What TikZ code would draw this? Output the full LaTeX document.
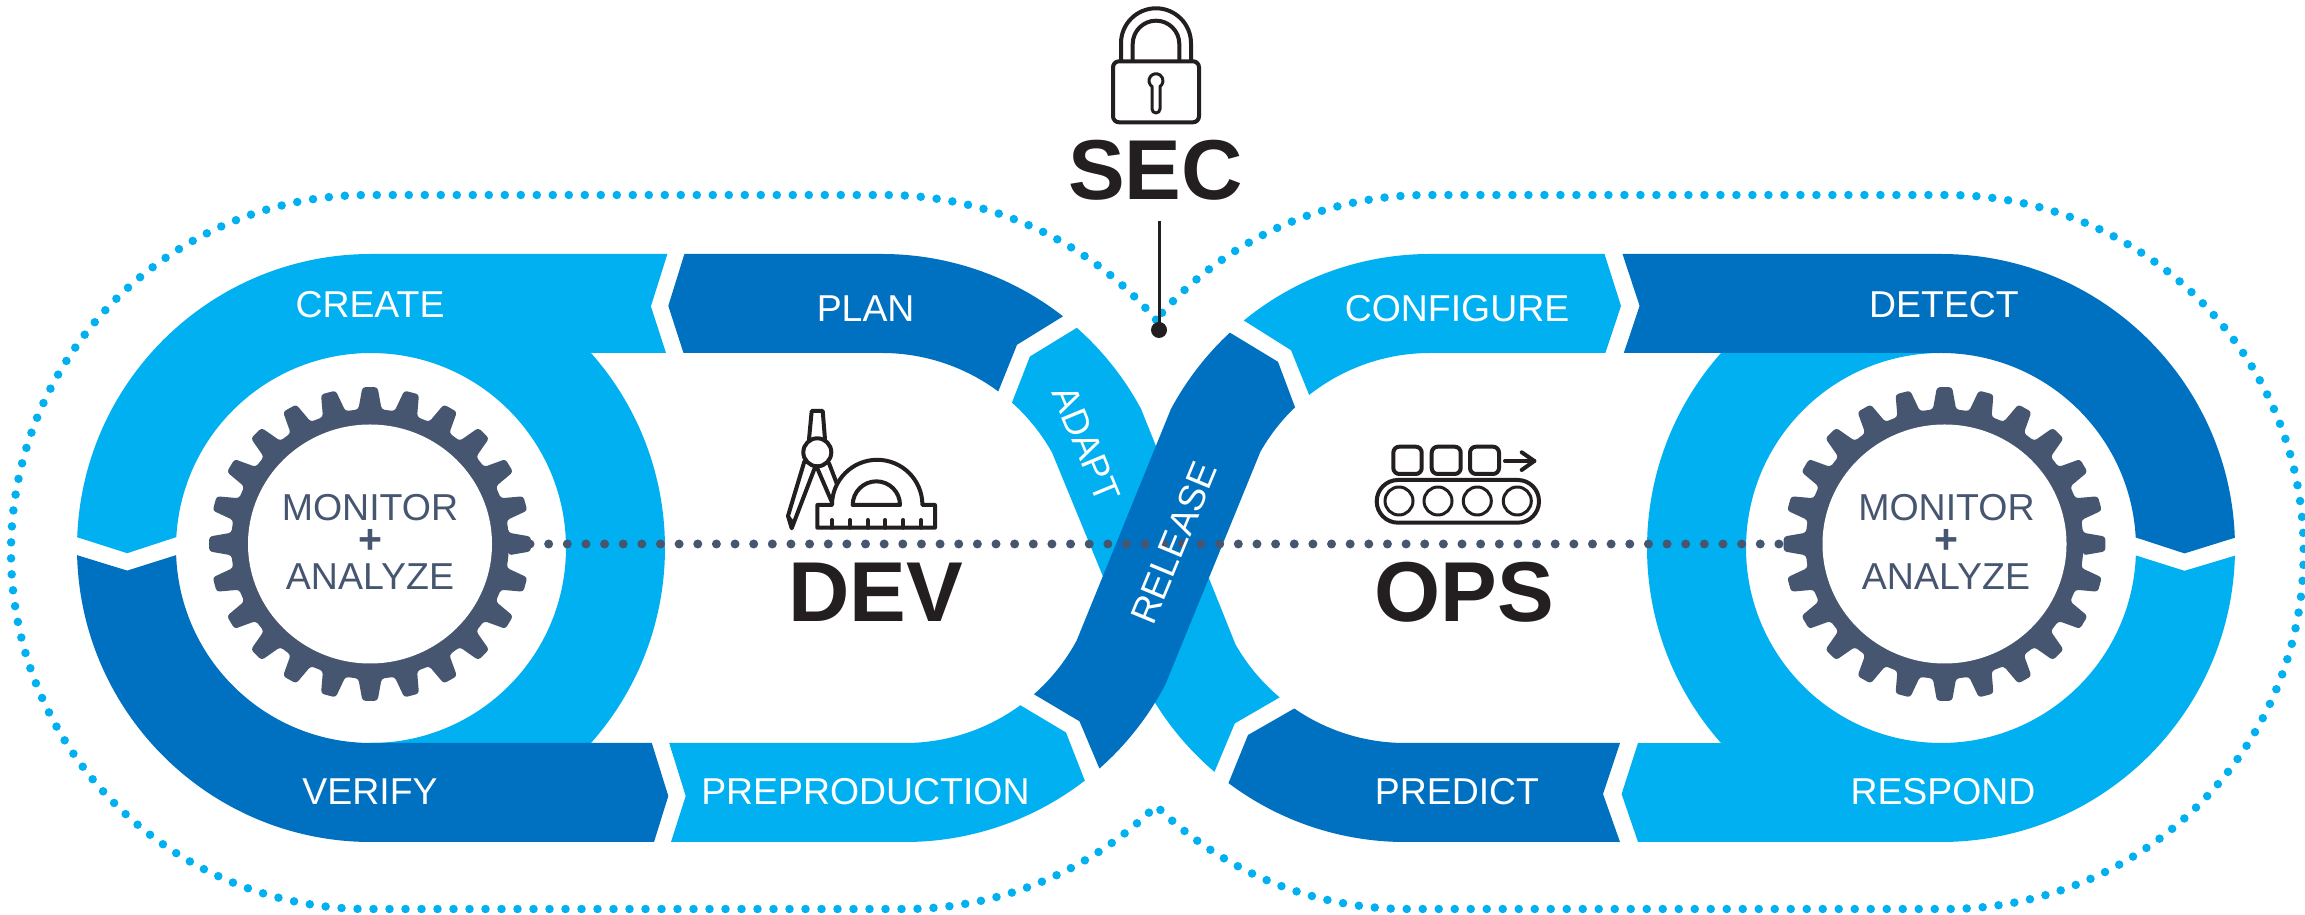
\documentclass[tikz,border=0pt]{standalone}
\usepackage{fontspec}
\setmainfont{Liberation Sans}
\definecolor{lightb}{HTML}{00B0F0}
\definecolor{darkb}{HTML}{0070C0}
\definecolor{slate}{HTML}{465670}
\definecolor{ink}{HTML}{231F20}
\tikzset{
  lightband/.style={fill=lightb,draw=none},
  darkband/.style={fill=darkb,draw=none},
  label/.style={text=white,inner sep=0pt,font=\fontsize{37.4}{37.4}\selectfont},
  gearlabel/.style={text=slate,inner sep=0pt,font=\fontsize{37.5}{37.5}\selectfont},
  gearplus/.style={text=slate,inner sep=0pt,font=\fontsize{41}{41}\selectfont\bfseries},
  bigtitle/.style={text=ink,inner sep=0pt,font=\fontsize{85}{85}\selectfont\bfseries},
  icon/.style={draw=ink,line width=4pt,line join=round,line cap=round},
  thinicon/.style={draw=ink,line width=3pt,line join=round,line cap=round},
  outerdots/.style={draw=lightb,line width=8.5pt,line cap=round,dash pattern=on 0pt off 16pt},
  innerdots/.style={draw=slate,line width=9pt,line cap=round,dash pattern=on 0pt off 18.64pt},
  gearbody/.style={fill=slate,rounded corners=3pt}
}
\newcommand{\mygear}[2]{%
  \fill[gearbody,shift={(#1,#2)}] (-4.8:139 and 135)
    \foreach \a in {0,15,...,345}{
      -- ({\a-4.8}:139 and 135) -- ({\a-2.7}:161 and 157)
      -- ({\a+2.7}:161 and 157) -- ({\a+4.8}:139 and 135)
    } -- cycle;
  \fill[white,shift={(#1,#2)}] (0,0) ellipse [x radius=122,y radius=119.5];
}
\begin{document}
\begin{tikzpicture}[x=1pt,y=1pt]
\useasboundingbox (0,0) rectangle (2305,915);
\fill[white] (0,0) rectangle (2305,915);

% outer dotted contour
\draw[outerdots] ([shift={(885,363)}]40.6:357) arc[start angle=40.6,end angle=90,radius=357pt]
  -- (368,720) arc[start angle=90,end angle=270,radius=357pt]
  -- (905,6) arc[start angle=-90,end angle=-45.3,radius=357pt]
  arc[start angle=225.3,end angle=270,radius=357pt]
  -- (1946.7,6) arc[start angle=-90,end angle=90,radius=357pt]
  -- (1427,720) arc[start angle=90,end angle=139.4,radius=357pt];

% left ring
\path[lightband] (667.4,661) -- (371,661) arc[start angle=90,end angle=177.9,radius=294pt]
  -- (127.2,361.8) -- ([shift={(371,367)}]176.8:195)
  arc[start angle=176.8,end angle=-90,radius=195pt]
  -- ([shift={(371,367)}]-41.6:294) arc[start angle=-41.6,end angle=41.6,radius=294pt]
  -- (666,562) -- (650.9,608.7) -- cycle;
\path[darkband] ([shift={(371,367)}]181.4:294) arc[start angle=181.4,end angle=270,radius=294pt]
  -- (654,73) -- (668.3,119) -- (651.8,172) -- (371,172)
  arc[start angle=270,end angle=182.1,radius=195pt] -- (127.2,344.4) -- cycle;
\path[darkband] (684.4,661) -- (882,661) arc[start angle=90,end angle=52,radius=294pt]
  -- (1017,570.2) -- ([shift={(882,367)}]53.4:195) arc[start angle=53.4,end angle=90,radius=195pt]
  -- (683.5,562) -- (668.3,609.1) -- cycle;
\path[lightband] (671,73) -- (905,73) arc[start angle=-90,end angle=-52.3,radius=294pt]
  -- (1066,182.5) -- ([shift={(905,367)}]-53.75:195) arc[start angle=-53.75,end angle=-90,radius=195pt]
  -- (669.2,172) -- (685.7,119) -- cycle;

% right ring
\path[lightband] (1638,172) -- (1621.6,121) -- (1638,73) -- (1941,73)
  arc[start angle=-90,end angle=-1.5,radius=294pt] -- (2184.5,344.2)
  -- ([shift={(1941,367)}]-2.2:195) arc[start angle=-2.2,end angle=-270,radius=195pt]
  -- ([shift={(1941,367)}]138.4:294) arc[start angle=138.4,end angle=221.6,radius=294pt] -- cycle;
\path[darkband] (1622.5,661) -- (1941,661) arc[start angle=90,end angle=2,radius=294pt]
  -- (2184.5,361.6) -- ([shift={(1941,367)}]3.1:195) arc[start angle=3.1,end angle=90,radius=195pt]
  -- (1623.8,562) -- (1639.6,609.1) -- cycle;
\path[lightband] ([shift={(1430,367)}]129.3:294) arc[start angle=129.3,end angle=90,radius=294pt]
  -- (1604.5,661) -- (1621,609.1) -- (1605.4,562) -- (1430,562)
  arc[start angle=90,end angle=128.3,radius=195pt] -- (1291,564.8) -- cycle;
\path[darkband] ([shift={(1405,367)}]233.1:294) arc[start angle=233.1,end angle=270,radius=294pt]
  -- (1620,73) -- (1603,121) -- (1620,172) -- (1405,172)
  arc[start angle=270,end angle=235.4,radius=195pt] -- (1248,180) -- cycle;

% crossing
\path[lightband] ([shift={(882,367)}]48.5:294) arc[start angle=48.5,end angle=28.2,radius=294pt]
  -- ([shift={(1405,367)}]209.6:195) arc[start angle=209.6,end angle=230,radius=195pt]
  -- (1234.8,191.6) -- ([shift={(1405,367)}]229.6:294) arc[start angle=229.6,end angle=211.6,radius=294pt]
  -- ([shift={(882,367)}]29.3:195) arc[start angle=29.3,end angle=48.2,radius=195pt]
  -- (1029.9,558.5) -- cycle;
\path[darkband] ([shift={(1430,367)}]132.9:294) arc[start angle=132.9,end angle=151.8,radius=294pt]
  -- ([shift={(905,367)}]-28.3:195) arc[start angle=-28.3,end angle=-48.6,radius=195pt]
  -- (1079.5,193.7) -- ([shift={(905,367)}]-48.6:294) arc[start angle=-48.6,end angle=-27.6,radius=294pt]
  -- ([shift={(1430,367)}]150.5:195) arc[start angle=150.5,end angle=133.8,radius=195pt]
  -- (1278,553.2) -- cycle;

% slate dotted line
\coordinate (dotL) at (530,371);
\coordinate (dotR) at (1779,371);
\draw[innerdots] (dotL) -- (dotR);

% gears
\mygear{370}{371}
\mygear{1944.5}{371}

% band labels
\node[label] (create) at (370,610) {CREATE};
\node[label] (verify) at (370,123.5) {VERIFY};
\node[label] (plan) at (865.6,606) {PLAN};
\node[label] (preprod) at (865.4,123) {PREPRODUCTION};
\node[label] (configure) at (1457,606) {CONFIGURE};
\node[label] (predict) at (1457,123.5) {PREDICT};
\node[label] (detect) at (1944,610) {DETECT};
\node[label] (respond) at (1943,123) {RESPOND};
\node[label,font=\fontsize{36.5}{36.5}\selectfont,rotate=-67.5] (adapt) at (1086.5,471) {ADAPT};
\node[label,font=\fontsize{37}{37}\selectfont,rotate=67.5] (release) at (1174,372) {RELEASE};

% gear labels
\node[gearlabel] (monL) at (370,407.5) {MONITOR};
\node[gearplus] (plusL) at (370,374) {+};
\node[gearlabel] (anaL) at (370,338.5) {ANALYZE};
\node[gearlabel] (monR) at (1946.5,407.5) {MONITOR};
\node[gearplus] (plusR) at (1946,374) {+};
\node[gearlabel] (anaR) at (1946,338.5) {ANALYZE};

% titles
\node[bigtitle] (dev) at (875.7,323) {DEV};
\node[bigtitle] (ops) at (1464,323) {OPS};
\node[bigtitle] (sec) at (1155.5,745) {SEC};

% SEC pin
\node[circle,fill=ink,minimum size=16pt,inner sep=0pt] (pin) at (1159,585) {};
\coordinate (pintop) at (1159,694);
\draw[ink,line width=3pt] (pintop) -- (pin.center);

% lock
\draw[icon,rounded corners=6pt] (1113,792.7) rectangle (1199,853.7);
\draw[icon] (1121,854) -- (1121,871.7) arc[start angle=180,end angle=0,radius=35pt] -- (1191,854);
\draw[icon] (1132.7,854) -- (1132.7,871) arc[start angle=180,end angle=0,radius=23.3pt] -- (1179.3,854);
\draw[thinicon] (1152,828.5) arc[start angle=235,end angle=-55,radius=7pt] -- (1160,806)
  arc[start angle=0,end angle=-180,radius=4pt] -- cycle;

% compass and protractor
\draw[icon] (809,475.7) -- (811.7,504) -- (822.7,504) -- (825,475.7);
\draw[icon] (817.3,462.7) circle[radius=14pt];
\draw[icon] (804.3,453.3) -- (788,399) -- (791.7,386.7) -- (815,447.7);
\draw[thinicon] (788,399) -- (792,394);
\draw[icon] (817.3,446.7) -- (831.7,413.3);
\draw[icon] (829,451.7) -- (836.7,431.7);
\draw[icon] (832,410) arc[start angle=180,end angle=0,radius=45.2pt] -- (935,410) -- (935,387.3)
  -- (817.3,387.3) -- (817.3,410) -- cycle;
\draw[icon] (852.7,410) arc[start angle=180,end angle=0,radius=23.65pt] -- cycle;
\foreach \tx in {832,850,867.7,885.3,903.3,921}{\draw[icon] (\tx,387.3) -- (\tx,395);}

% conveyor
\draw[icon,rounded corners=6pt] (1393.3,441) rectangle (1421.7,468.3);
\draw[icon,rounded corners=6pt] (1431.7,441) rectangle (1460.7,468.3);
\draw[icon,rounded corners=6pt] (1470,441) rectangle (1499,468.3);
\draw[icon] (1505,454) -- (1534.3,454);
\draw[icon] (1521.7,462.7) -- (1534.3,454) -- (1521.7,445);
\draw[icon,rounded corners=21.3pt] (1376.7,392.3) rectangle (1539,435);
\foreach \cx in {1399,1438,1477.3,1517.3}{\draw[thinicon] (\cx,414) circle[radius=14pt];}
\end{tikzpicture}
\end{document}
